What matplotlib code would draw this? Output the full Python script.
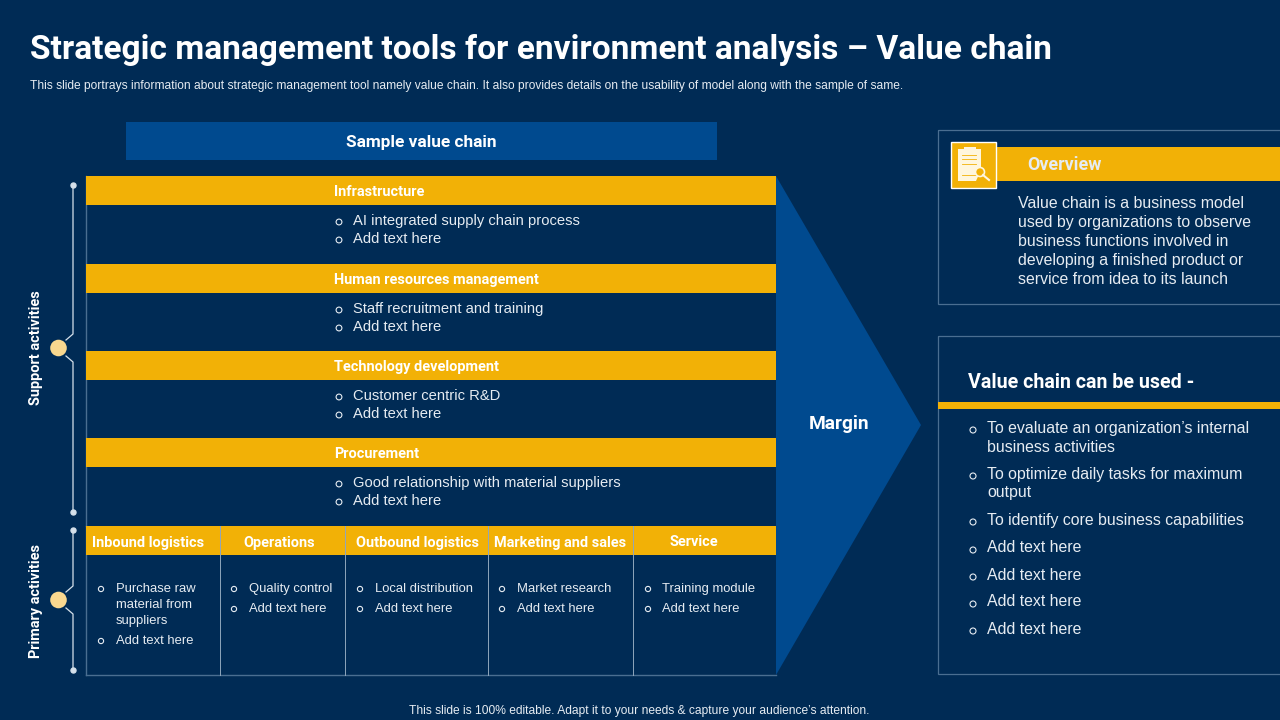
import matplotlib
matplotlib.use('Agg')
import matplotlib.pyplot as plt
from matplotlib.patches import Rectangle, Polygon, Circle

NAVY = '#002B55'
BLUE = '#004A8F'
GOLD = '#F2B106'
WHITE = '#FFFFFF'
TEXT = '#E6ECF2'
EDGE = '#4A6E91'
DIVIDER = '#8FA6BC'
NODE = '#F9D88F'
LINE = '#D5E0EA'
PAPER = '#FFF6DD'

NARROW = ['Roboto', 'DejaVu Sans']
SANS = ['Liberation Sans', 'DejaVu Sans']

title = 'Strategic management tools for environment analysis \u2013 Value chain'
subtitle = ('This slide portrays information about strategic management tool namely value chain. '
            'It also provides details on the usability of model along with the sample of same.')
footer = 'This slide is 100% editable. Adapt it to your needs & capture your audience\u2019s attention.'

support_heads = ['Infrastructure', 'Human resources management', 'Technology development', 'Procurement']
support_items = [['AI integrated supply chain process', 'Add text here'],
                 ['Staff recruitment and training', 'Add text here'],
                 ['Customer centric R&D', 'Add text here'],
                 ['Good relationship with material suppliers', 'Add text here']]
support_tops = [176, 264, 351, 438]

primary_heads = ['Inbound logistics', 'Operations', 'Outbound logistics', 'Marketing and sales', 'Service']
primary_items = [['Purchase raw\nmaterial from\nsuppliers', 'Add text here'],
                 ['Quality control', 'Add text here'],
                 ['Local distribution', 'Add text here'],
                 ['Market research', 'Add text here'],
                 ['Training module', 'Add text here']]
primary_edges = [86, 220, 345, 488, 633, 776]
primary_head_x = [148, 279, 417, 560, 694]
primary_bullet_x = [101, 234, 360, 502, 648]
primary_text_x = [116, 249, 375, 517, 662]

overview_lines = ['Value chain is a business model', 'used by organizations to observe',
                  'business functions involved in', 'developing a finished product or',
                  'service from idea to its launch']
usage_items = [(['To evaluate an organization\u2019s internal', 'business activities'], 428),
               (['To optimize daily tasks for maximum', 'output'], 474),
               (['To identify core business capabilities'], 520),
               (['Add text here'], 548),
               (['Add text here'], 575),
               (['Add text here'], 602),
               (['Add text here'], 629)]

fig = plt.figure(figsize=(12.8, 7.2), dpi=100, facecolor=NAVY)
ax = fig.add_axes([0, 0, 1, 1])
ax.set_xlim(0, 1280)
ax.set_ylim(720, 0)
ax.axis('off')


def box(x0, y0, x1, y1, fc, ec='none', lw=0, z=1):
    ax.add_patch(Rectangle((x0, y0), x1 - x0, y1 - y0, facecolor=fc, edgecolor=ec, linewidth=lw, zorder=z))


def txt(x, y, s, px, family=SANS, color=TEXT, weight='normal', ha='left', rot=0):
    # px is the font size in image pixels
    ax.text(x, y, s, fontsize=px * 0.72, family=family, color=color, weight=weight,
            ha=ha, va='center', rotation=rot, zorder=5)


def bullet(x, y, r=2.9, lw=0.8):
    ax.add_patch(Circle((x, y), r, facecolor='none', edgecolor=TEXT, linewidth=lw, zorder=5))


# header
txt(30, 49.5, title, 33.55, NARROW, WHITE, 'bold')
txt(30, 85.5, subtitle, 12, SANS, TEXT)
txt(639.5, 711, footer, 12.05, SANS, TEXT, ha='center')

# sample value chain banner
box(126, 122, 717, 160, BLUE)
txt(421, 142, 'Sample value chain', 17.3, NARROW, WHITE, 'bold', ha='center')

# margin arrow
ax.add_patch(Polygon([(776, 176), (921, 425), (776, 675)], facecolor=BLUE, edgecolor='none', zorder=1))
txt(839, 424, 'Margin', 19.2, NARROW, WHITE, 'bold', ha='center')

# support activities
ax.plot([86, 86], [176, 526], color=EDGE, lw=1, zorder=2)
for head, items, top in zip(support_heads, support_items, support_tops):
    box(86, top, 776, top + 29, GOLD, z=3)
    txt(334, top + 16, head, 14.5, NARROW, WHITE, 'bold')
    for i, item in enumerate(items):
        y = top + 45 + i * 18
        bullet(339, y + 1)
        txt(353, y, item, 14.7, SANS, TEXT)

# primary activities
box(86, 526, 776, 555, GOLD, z=3)
ax.plot([86, 776], [675, 675], color=EDGE, lw=1, zorder=2)
ax.plot([86, 86], [526, 675], color=EDGE, lw=1, zorder=2)
for x in primary_edges[1:-1]:
    ax.plot([x, x], [526, 675], color=DIVIDER, lw=0.7, zorder=4)
for head, hx, bx, tx, items in zip(primary_heads, primary_head_x, primary_bullet_x, primary_text_x, primary_items):
    txt(hx, 542.5, head, 14.5, NARROW, WHITE, 'bold', ha='center')
    y = 589
    for item in items:
        bullet(bx, y, r=2.6)
        for line in item.split('\n'):
            txt(tx, y, line, 13.05, SANS, TEXT)
            y += 16
        y += 4

# side brackets with nodes
for y0, y1, yc, label, label_y in [(185, 512, 348, 'Support activities', 348),
                                   (530, 670, 600, 'Primary activities', 600.5)]:
    ax.plot([73, 73, 66], [y0, yc - 14, yc - 8], color=LINE, lw=0.9, zorder=2)
    ax.plot([66, 73, 73], [yc + 8, yc + 14, y1], color=LINE, lw=0.9, zorder=2)
    ax.plot([73, 73], [y0, y1], 'o', color=LINE, ms=3.6, zorder=3)
    ax.add_patch(Circle((58.5, yc), 8.3, facecolor=NODE, edgecolor='none', zorder=4))
    txt(36, label_y, label, 14.5, NARROW, WHITE, 'bold', ha='center', rot=90)

# overview panel
box(938, 130, 1290, 304, 'none', EDGE, 0.9)
box(951, 147, 1280, 181, GOLD)
box(950.5, 141.5, 995.5, 187.5, GOLD, WHITE, 1, z=3)
txt(1027, 165.5, 'Overview', 17.9, NARROW, TEXT, 'bold')
for i, line in enumerate(overview_lines):
    txt(1018, 204 + i * 19, line, 15.95, SANS, TEXT)

# overview icon: clipboard with a magnifier, plain patches
ax.add_patch(Polygon([(958, 149), (981, 149), (981, 170), (976, 181), (958, 181)],
                     facecolor=PAPER, edgecolor='none', zorder=4))
box(964, 147, 976, 151, PAPER, z=4)
for y in [155, 159, 164, 175]:
    ax.plot([962, 976], [y, y], color=GOLD, lw=0.6, zorder=5)
ax.add_patch(Circle((980, 172), 4.5, facecolor=GOLD, edgecolor=PAPER, linewidth=1.2, zorder=5))
ax.plot([983, 989], [175, 180], color=PAPER, lw=1.5, zorder=5)

# value chain usage panel
box(938, 336, 1290, 674, 'none', EDGE, 0.9)
txt(968, 382, 'Value chain can be used -', 19.6, NARROW, WHITE, 'bold')
box(938, 402, 1280, 409, GOLD)
for lines, y in usage_items:
    bullet(973, y + 2, r=3.0)
    for k, line in enumerate(lines):
        txt(987, y + k * 19, line, 15.9, SANS, TEXT)

fig.savefig('out.png', dpi=100, facecolor=NAVY)
